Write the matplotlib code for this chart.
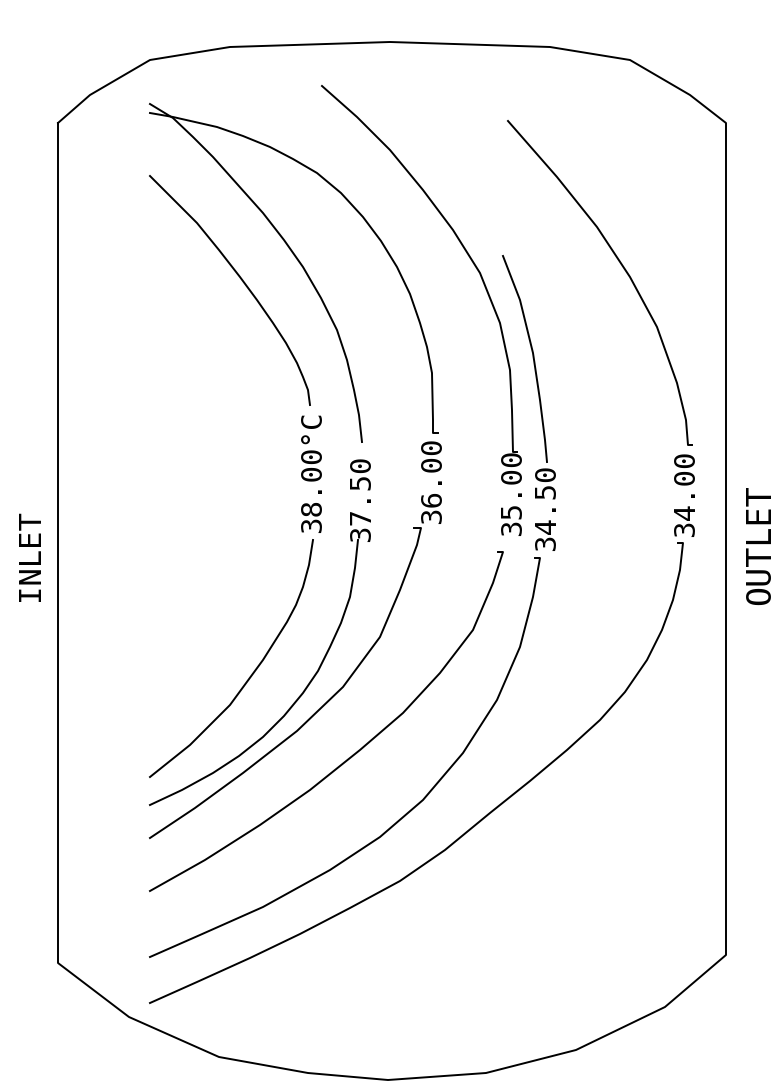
#!/usr/bin/env python3
"""
plot.py  --  isotherm plot of the vessel (INLET -> OUTLET)
Contour lines were traced off the scanned plotter sheet, in sheet pixels.
"""

import matplotlib
matplotlib.use('Agg')
import matplotlib.pyplot as plt

# ------------------------------------------------------------------------------
# Data (sheet coordinates, x right, y down)
# ------------------------------------------------------------------------------
outline_x = [58, 90, 150, 230, 390, 550, 630, 690, 726,
             726, 665, 576, 486, 388, 308, 219, 129, 58, 58]
outline_y = [123, 95, 60, 47, 42, 47, 60, 95, 123,
             955, 1007, 1050, 1073, 1080, 1073, 1057, 1017, 963, 123]

levels = ["38.00", "37.50", "36.00", "35.00", "34.50", "34.00"]
units  = ["\u00b0C", "", "", "", "", ""]

label_x = [313, 362, 433, 513, 547, 686]
label_y = [472, 498, 480, 492, 507, 493]

# upper branch of each isotherm (ends at the label)
upper_x = [
    [150, 173, 197, 219, 240, 257, 273, 286, 297, 303, 308, 310],
    [150, 173, 193, 213, 238, 263, 284, 303, 321, 337, 347, 354, 359, 362],
    [150, 173, 217, 243, 270, 293, 317, 341, 363, 381, 397, 410, 420, 427,
     432, 433, 433, 438],
    [322, 357, 390, 423, 453, 480, 500, 510, 512, 513, 517],
    [503, 520, 533, 540, 545, 547],
    [508, 557, 597, 630, 657, 677, 686, 688, 692],
]
upper_y = [
    [176, 199, 223, 250, 277, 300, 323, 343, 363, 377, 390, 405],
    [104, 118, 137, 157, 185, 213, 240, 267, 298, 330, 360, 390, 415, 442],
    [113, 117, 127, 136, 147, 159, 173, 193, 217, 241, 267, 294, 323, 347,
     373, 420, 433, 433],
    [86, 117, 150, 190, 230, 273, 323, 370, 410, 452, 452],
    [256, 300, 353, 400, 440, 462],
    [121, 177, 227, 277, 327, 383, 420, 445, 445],
]

# lower branch of each isotherm (starts at the label)
lower_x = [
    [313, 309, 303, 296, 287, 263, 230, 190, 150],
    [358, 355, 350, 341, 330, 318, 303, 284, 263, 239, 213, 182, 150],
    [414, 421, 417, 400, 380, 343, 297, 243, 195, 150],
    [498, 503, 493, 473, 440, 403, 360, 310, 260, 205, 150],
    [535, 540, 533, 520, 497, 463, 423, 380, 330, 263, 200, 150],
    [678, 683, 680, 673, 662, 647, 625, 600, 567, 530, 490, 445, 400, 350,
     300, 250, 197, 150],
]
lower_y = [
    [540, 565, 587, 605, 622, 660, 705, 745, 777],
    [540, 568, 597, 623, 647, 671, 693, 716, 737, 756, 773, 790, 805],
    [528, 528, 545, 590, 637, 687, 731, 773, 808, 838],
    [552, 552, 583, 630, 673, 713, 750, 790, 825, 860, 891],
    [558, 558, 597, 647, 700, 753, 800, 837, 870, 907, 935, 957],
    [543, 543, 570, 600, 630, 660, 692, 720, 750, 781, 813, 850, 881, 908,
     934, 958, 982, 1003],
]

side_labels = ["INLET", "OUTLET"]
side_x = [30, 761]
side_y = [555, 545]
side_size = [22, 24]

# ------------------------------------------------------------------------------
# Plot
# ------------------------------------------------------------------------------
FONT = 'DejaVu Sans Mono'
LW = 1.4

fig = plt.figure(figsize=(7.77, 10.88), dpi=100)
ax = fig.add_axes([0, 0, 1, 1])
ax.set_xlim(0, 777)
ax.set_ylim(1088, 0)
ax.axis('off')

ax.plot(outline_x, outline_y, color='black', linewidth=LW,
        solid_joinstyle='round')

for i, lev in enumerate(levels):
    ax.plot(upper_x[i], upper_y[i], color='black', linewidth=LW,
            solid_joinstyle='round')
    ax.plot(lower_x[i], lower_y[i], color='black', linewidth=LW,
            solid_joinstyle='round')
    ax.text(label_x[i], label_y[i], lev + units[i], rotation=90,
            ha='center', va='center', rotation_mode='anchor',
            fontsize=21, family=FONT, color='black')

for name, x, y, fs in zip(side_labels, side_x, side_y, side_size):
    ax.text(x, y, name, rotation=90, ha='center', va='center',
            rotation_mode='anchor', fontsize=fs, family=FONT, color='black')

fig.savefig('out.png', dpi=100, facecolor='white')
plt.close(fig)
